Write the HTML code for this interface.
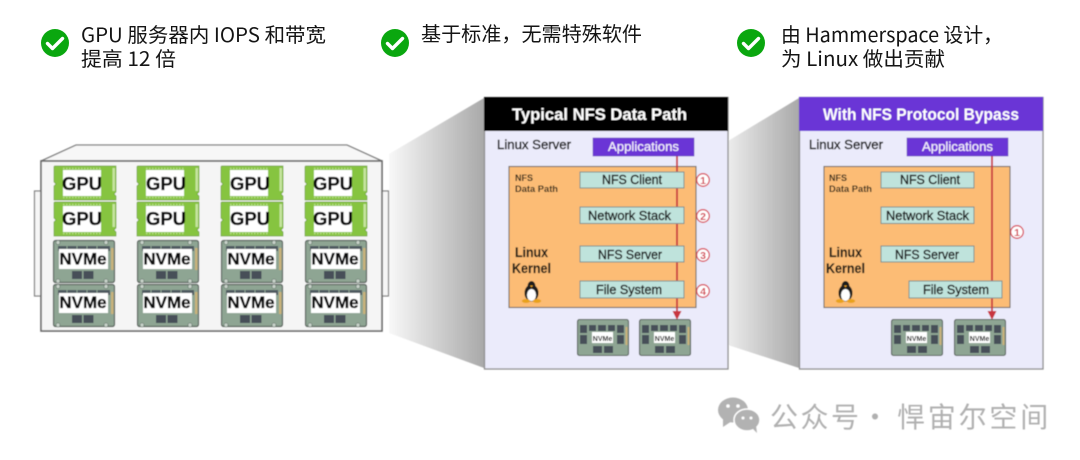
<!DOCTYPE html>
<html><head><meta charset="utf-8"><style>
html,body{margin:0;padding:0;background:#fff;width:1080px;height:460px;overflow:hidden}
svg{display:block}
text{font-family:"Liberation Sans","Noto Sans CJK SC",sans-serif}
.zh{font-family:"Noto Sans CJK SC","Liberation Sans",sans-serif;font-size:20px;fill:#141414}
.wm{font-family:"Noto Sans CJK SC",sans-serif;fill:#b0b0b0;font-size:28px}
.b{font-weight:bold;fill:#0c0d0f;stroke:#0c0d0f;stroke-width:.35}
.r{fill:#1c1d1f;font-size:13px;stroke:#1c1d1f;stroke-width:.45}
.w{fill:#f4effc;font-size:13px;stroke:#f4effc;stroke-width:.2}
.h{fill:#fff;font-size:17px;font-weight:bold}
.n{fill:#33291c;font-size:9.500px;font-weight:bold}
.k{fill:#1f1a14;font-size:14px;font-weight:bold;stroke:#1f1a14;stroke-width:.15}
.c{fill:#d33f4e;font-size:10.500px;font-weight:bold;text-anchor:middle}
.m{font-size:7px;font-weight:bold;fill:#111;text-anchor:middle}
</style></head><body>
<svg width="1080" height="460" viewBox="0 0 1080 460" xmlns="http://www.w3.org/2000/svg">
<defs>
<linearGradient id="s1" x1="0" x2="1" y1="0" y2="0"><stop offset="0" stop-color="#f8f8f8"/><stop offset="1" stop-color="#a9a9a9"/></linearGradient>
<linearGradient id="s2" x1="0" x2="1" y1="0" y2="0"><stop offset="0" stop-color="#ececec"/><stop offset="1" stop-color="#a9a9a9"/></linearGradient>
<filter id="soft" x="-2%" y="-2%" width="104%" height="104%"><feGaussianBlur stdDeviation="0.4"/></filter>
<g id="gpu">
<path d="M0 1 Q0 0 1 0 H62 V26 L60 28 L62 30 V34 H0 V20 L2 18 L0 16 Z" fill="#86c440" stroke="#6f9f3a" stroke-width=".7"/>
<rect x="9" y="4" width="38" height="26" fill="#fff"/>
<path d="M9 2.500h38" stroke="#b9dd8b" stroke-width="1.500" stroke-dasharray="1.500 1.500"/>
<path d="M9 31.500h38" stroke="#b9dd8b" stroke-width="1.500" stroke-dasharray="1.500 1.500"/>
<rect x="58.500" y="2" width="2.500" height="23" fill="#c6e49f"/>
</g>
<g id="nvme">
<rect x=".5" y=".5" width="61" height="42" rx="2" fill="#8ea593" stroke="#555f59" stroke-width="1.200"/>
<rect x="5" y="6" width="52" height="5" fill="#4f5a60"/>
<path d="M14 6v5M24 6v5M34 6v5M44 6v5" stroke="#8ea593"/>
<rect x="6" y="9" width="49" height="20" fill="#fff"/>
<rect x="58" y="8" width="2.500" height="22" fill="#c9b27a"/>
<rect x="19" y="31" width="10" height="8" fill="#474f58"/>
<rect x="30.500" y="31" width="10" height="8" fill="#474f58"/>
<circle cx="5" cy="2.500" r="2" fill="#c7d2c9" stroke="#5d6d63" stroke-width=".6"/>
<circle cx="53" cy="2.500" r="2" fill="#c7d2c9" stroke="#5d6d63" stroke-width=".6"/>
<circle cx="5" cy="41" r="2" fill="#c7d2c9" stroke="#5d6d63" stroke-width=".6"/>
<circle cx="53" cy="41" r="2" fill="#c7d2c9" stroke="#5d6d63" stroke-width=".6"/>
</g>
<g id="mini">
<rect x=".5" y=".5" width="51" height="36" rx="2" fill="#8ea593" stroke="#555f59" stroke-width="1.100"/>
<g fill="#474f58">
<rect x="3" y="6" width="7" height="8"/><rect x="3" y="16" width="7" height="9"/>
<rect x="12" y="6" width="7" height="6"/><rect x="21" y="6" width="8" height="6"/><rect x="31" y="6" width="7" height="6"/>
<rect x="40" y="6" width="7" height="8"/><rect x="40" y="16" width="7" height="9"/>
<rect x="16" y="27" width="9" height="7"/><rect x="27" y="27" width="9" height="7"/>
</g>
<rect x="15" y="13" width="21" height="11" fill="#fff"/>
<rect x="48.500" y="8" width="2" height="18" fill="#c9b27a"/>
</g>
<g id="tux">
<ellipse cx="9.500" cy="12" rx="7" ry="8.500" fill="#1c1c1c"/>
<ellipse cx="9.500" cy="4.500" rx="3.800" ry="4.500" fill="#1c1c1c"/>
<ellipse cx="9.500" cy="14" rx="4.500" ry="6" fill="#fff"/>
<path d="M8 4.500 h3 l-1.500 2z" fill="#e9a21f"/>
<ellipse cx="4" cy="20" rx="4.200" ry="2" fill="#e9a21f"/>
<ellipse cx="15" cy="20" rx="4.200" ry="2" fill="#e9a21f"/>
</g>
<g id="chk">
<circle r="14" fill="#0aa70f"/>
<path d="M-7.500 0.500 L-2.500 5.500 L7.500 -4.500" fill="none" stroke="#fff" stroke-width="3.400" stroke-linecap="round" stroke-linejoin="round"/>
</g>
</defs>

<rect width="1080" height="460" fill="#fff"/>

<!-- Heading items -->
<use href="#chk" x="55" y="43"/>
<use href="#chk" x="395" y="43"/>
<use href="#chk" x="751" y="43"/>
<text class="zh" x="81" y="42" textLength="245" lengthAdjust="spacingAndGlyphs">GPU 服务器内 IOPS 和带宽</text>
<text class="zh" x="81" y="66" textLength="95" lengthAdjust="spacingAndGlyphs">提高 12 倍</text>
<text class="zh" x="421" y="41" textLength="221" lengthAdjust="spacingAndGlyphs">基于标准，无需特殊软件</text>
<text class="zh" x="781" y="42" textLength="222" lengthAdjust="spacingAndGlyphs">由 Hammerspace 设计，</text>
<text class="zh" x="781" y="66" textLength="164" lengthAdjust="spacingAndGlyphs">为 Linux 做出贡献</text>

<g filter="url(#soft)">
<!-- Projection shadows -->
<polygon points="389,154 484,98 484,368 389,333" fill="url(#s1)"/>
<polygon points="728,141 799,98 799,368 728,345" fill="url(#s2)"/>

<!-- Server chassis -->
<rect x="34.500" y="191" width="7" height="105" fill="#f6f6f6" stroke="#808080" stroke-width="1.200"/>
<rect x="381.500" y="191" width="7" height="105" fill="#f6f6f6" stroke="#808080" stroke-width="1.200"/>
<polygon points="41,161 76,145 347,145 382,161" fill="#f7f7f7" stroke="#808080" stroke-width="1.300"/>
<rect x="41" y="161" width="341" height="170" fill="#f5f5f5" stroke="#666" stroke-width="1.600"/>

<use href="#gpu" x="54" y="166"/><use href="#gpu" x="137" y="166"/><use href="#gpu" x="221" y="166"/><use href="#gpu" x="305" y="166"/>
<use href="#gpu" x="54" y="202"/><use href="#gpu" x="137" y="202"/><use href="#gpu" x="221" y="202"/><use href="#gpu" x="305" y="202"/>
<use href="#nvme" x="53" y="240"/><use href="#nvme" x="137" y="240"/><use href="#nvme" x="221" y="240"/><use href="#nvme" x="305" y="240"/>
<use href="#nvme" x="53" y="284"/><use href="#nvme" x="137" y="284"/><use href="#nvme" x="221" y="284"/><use href="#nvme" x="305" y="284"/>

<text class="b" x="82" y="190" text-anchor="middle" font-size="18.500">GPU</text><text class="b" x="166" y="190" text-anchor="middle" font-size="18.500">GPU</text><text class="b" x="250" y="190" text-anchor="middle" font-size="18.500">GPU</text><text class="b" x="333" y="190" text-anchor="middle" font-size="18.500">GPU</text>
<text class="b" x="82" y="225" text-anchor="middle" font-size="18.500">GPU</text><text class="b" x="166" y="225" text-anchor="middle" font-size="18.500">GPU</text><text class="b" x="250" y="225" text-anchor="middle" font-size="18.500">GPU</text><text class="b" x="333" y="225" text-anchor="middle" font-size="18.500">GPU</text>
<text class="b" x="83" y="264.500" text-anchor="middle" font-size="17">NVMe</text><text class="b" x="167" y="264.500" text-anchor="middle" font-size="17">NVMe</text><text class="b" x="251" y="264.500" text-anchor="middle" font-size="17">NVMe</text><text class="b" x="335" y="264.500" text-anchor="middle" font-size="17">NVMe</text>
<text class="b" x="83" y="308" text-anchor="middle" font-size="17">NVMe</text><text class="b" x="167" y="308" text-anchor="middle" font-size="17">NVMe</text><text class="b" x="251" y="308" text-anchor="middle" font-size="17">NVMe</text><text class="b" x="335" y="308" text-anchor="middle" font-size="17">NVMe</text>

<!-- Panel 1 -->
<rect x="484.500" y="97.500" width="243.500" height="271.500" fill="#ebebfb" stroke="#8f8f8f" stroke-width="1.300"/>
<rect x="484" y="97" width="244" height="34" fill="#000"/>
<text class="h" x="512" y="120" textLength="175" lengthAdjust="spacingAndGlyphs">Typical NFS Data Path</text>
<text class="r" x="497" y="149" textLength="74" lengthAdjust="spacingAndGlyphs">Linux Server</text>
<rect x="509" y="166.500" width="187" height="141" fill="#fcbc74" stroke="#6e6a66" stroke-width="1.100"/>
<path d="M677 156V314" stroke="#c8343f" stroke-width="1.800"/>
<polygon points="672.500,311 681.500,311 677,320" fill="#c8343f"/>
<rect x="593" y="138" width="101" height="18" fill="#6b35d6" stroke="#5a2fb0" stroke-width=".5"/>
<text class="w" x="608" y="151" textLength="71" lengthAdjust="spacingAndGlyphs">Applications</text>
<g fill="#bfe3dc" stroke="#7f8f8d" stroke-width="1">
<rect x="580" y="172" width="104" height="16"/>
<rect x="580" y="207" width="104" height="16.500"/>
<rect x="580" y="246" width="104" height="16"/>
<rect x="580" y="281" width="104" height="17"/>
</g>
<text class="r" x="602" y="184" textLength="60" lengthAdjust="spacingAndGlyphs">NFS Client</text>
<text class="r" x="588" y="220" textLength="83" lengthAdjust="spacingAndGlyphs">Network Stack</text>
<text class="r" x="598" y="259" textLength="64" lengthAdjust="spacingAndGlyphs">NFS Server</text>
<text class="r" x="596" y="294" textLength="66" lengthAdjust="spacingAndGlyphs">File System</text>
<text class="n" x="515" y="181" textLength="18" lengthAdjust="spacingAndGlyphs">NFS</text>
<text class="n" x="515" y="192" textLength="43" lengthAdjust="spacingAndGlyphs">Data Path</text>
<text class="k" x="515" y="257" textLength="33" lengthAdjust="spacingAndGlyphs">Linux</text>
<text class="k" x="512" y="273" textLength="39" lengthAdjust="spacingAndGlyphs">Kernel</text>
<use href="#tux" x="522" y="281"/>
<g fill="#fff" stroke="#d94a58" stroke-width="1.300">
<circle cx="703" cy="180" r="6.300"/><circle cx="703" cy="216" r="6.300"/><circle cx="703" cy="255" r="6.300"/><circle cx="703" cy="291" r="6.300"/>
</g>
<text class="c" x="703" y="184">1</text><text class="c" x="703" y="220">2</text><text class="c" x="703" y="259">3</text><text class="c" x="703" y="295">4</text>
<use href="#mini" x="577" y="319"/><use href="#mini" x="639" y="319"/>
<text class="m" x="602.500" y="341">NVMe</text><text class="m" x="664.500" y="341">NVMe</text>

<!-- Panel 2 -->
<rect x="799.500" y="97.500" width="243.500" height="271.500" fill="#ebebfb" stroke="#8f8f8f" stroke-width="1.300"/>
<rect x="799" y="97" width="244" height="34" fill="#6b35d6"/>
<text class="h" x="823" y="120" textLength="196" lengthAdjust="spacingAndGlyphs">With NFS Protocol Bypass</text>
<text class="r" x="809" y="149" textLength="74" lengthAdjust="spacingAndGlyphs">Linux Server</text>
<rect x="824" y="166.500" width="186" height="141" fill="#fcbc74" stroke="#6e6a66" stroke-width="1.100"/>
<path d="M992 156V314" stroke="#c8343f" stroke-width="1.800"/>
<polygon points="987.500,311 996.500,311 992,320" fill="#c8343f"/>
<rect x="907" y="138" width="101" height="18" fill="#6b35d6" stroke="#5a2fb0" stroke-width=".5"/>
<text class="w" x="922" y="151" textLength="71" lengthAdjust="spacingAndGlyphs">Applications</text>
<g fill="#bfe3dc" stroke="#7f8f8d" stroke-width="1">
<rect x="881" y="172" width="93" height="16"/>
<rect x="881" y="207" width="93" height="16.500"/>
<rect x="881" y="246" width="93" height="16"/>
<rect x="909" y="281" width="93" height="17"/>
</g>
<text class="r" x="900" y="184" textLength="60" lengthAdjust="spacingAndGlyphs">NFS Client</text>
<text class="r" x="886" y="220" textLength="83" lengthAdjust="spacingAndGlyphs">Network Stack</text>
<text class="r" x="895" y="259" textLength="64" lengthAdjust="spacingAndGlyphs">NFS Server</text>
<text class="r" x="923" y="294" textLength="66" lengthAdjust="spacingAndGlyphs">File System</text>
<text class="n" x="829" y="181" textLength="18" lengthAdjust="spacingAndGlyphs">NFS</text>
<text class="n" x="829" y="192" textLength="43" lengthAdjust="spacingAndGlyphs">Data Path</text>
<text class="k" x="829" y="257" textLength="33" lengthAdjust="spacingAndGlyphs">Linux</text>
<text class="k" x="826" y="273" textLength="39" lengthAdjust="spacingAndGlyphs">Kernel</text>
<use href="#tux" x="836" y="281"/>
<circle cx="1017" cy="232" r="6.300" fill="#fff" stroke="#d94a58" stroke-width="1.300"/>
<text class="c" x="1017" y="236">1</text>
<use href="#mini" x="891" y="319"/><use href="#mini" x="954" y="319"/>
<text class="m" x="916.500" y="341">NVMe</text><text class="m" x="979.500" y="341">NVMe</text>

<!-- Watermark -->
<ellipse cx="733" cy="410" rx="15" ry="12.500" fill="#b2b2b2"/>
<polygon points="723,419 723,427 732,421" fill="#b2b2b2"/>
<ellipse cx="747" cy="420" rx="13" ry="11" fill="#b2b2b2" stroke="#fff" stroke-width="1.500"/>
<polygon points="752,428 757,433 756,425" fill="#b2b2b2"/>
<g fill="#fff"><circle cx="728" cy="406" r="1.800"/><circle cx="738" cy="406" r="1.800"/><circle cx="743" cy="418" r="1.500"/><circle cx="751" cy="418" r="1.500"/></g>
<text class="wm" x="770" y="427" letter-spacing="2.500">公众号</text>
<text class="wm" x="861" y="427">·</text>
<text class="wm" x="897" y="427" letter-spacing="2.800">悍宙尔空间</text>
</g>
</svg>
</body></html>
